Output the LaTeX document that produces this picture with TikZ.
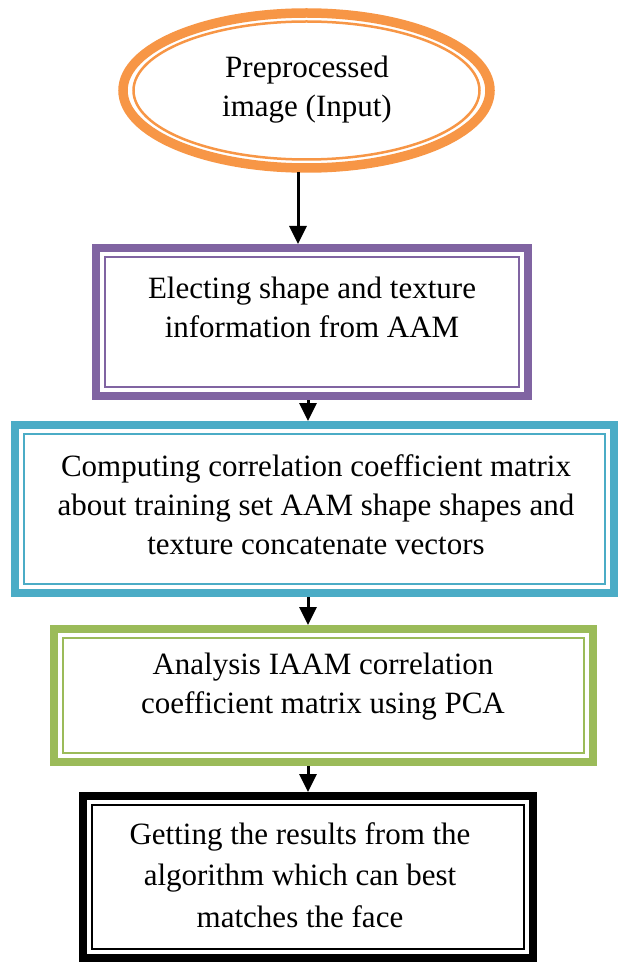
\documentclass[tikz,border=0pt]{standalone}
\usepackage{fontspec}
\setmainfont{Liberation Serif}
\usetikzlibrary{arrows.meta}
\definecolor{corange}{HTML}{F79646}
\definecolor{cpurple}{HTML}{8064A2}
\definecolor{cteal}{HTML}{4BACC6}
\definecolor{cgreen}{HTML}{9BBB59}
\tikzset{
  boxouter/.style={draw=#1, line width=8pt, rectangle, inner sep=0pt},
  boxinner/.style={draw=#1, line width=2.5pt},
  txt/.style={align=center, inner sep=0pt, font=\fontsize{31}{39}\selectfont},
  arr/.style={line width=3pt, -{Triangle[width=17pt,length=18pt]}}
}
\begin{document}
\begin{tikzpicture}[x=1pt,y=-1pt]
\useasboundingbox (0,0) rectangle (622,965);
% ellipse
\coordinate (e) at (306.5,90.5);
\draw[corange, line width=9.5pt] (e) ellipse [x radius=183.5, y radius=77.5];
\draw[corange, line width=2.5pt] (e) ellipse [x radius=173, y radius=69];
\node[txt] (t0) at (307,90) {Preprocessed\\image (Input)};
\coordinate (ebot) at (298,172);
% box 1
\node[boxouter=cpurple, minimum width=432pt, minimum height=148pt] (b1) at (312,322) {};
\draw[boxinner=cpurple] ([xshift=13pt,yshift=-13pt]b1.north west) rectangle ([xshift=-13pt,yshift=13pt]b1.south east);
\node[txt] (t1) at (312,307) {Electing shape and texture\\information from AAM};
% box 2
\node[boxouter=cteal, minimum width=599pt, minimum height=168pt] (b2) at (314.5,509) {};
\draw[boxinner=cteal] ([xshift=13pt,yshift=-13pt]b2.north west) rectangle ([xshift=-13pt,yshift=13pt]b2.south east);
\node[txt] (t2) at (316,505) {Computing correlation coefficient matrix\\about training set AAM shape shapes and\\texture concatenate vectors};
% box 3
\node[boxouter=cgreen, minimum width=539pt, minimum height=133pt] (b3) at (323.5,695.5) {};
\draw[boxinner=cgreen] ([xshift=13pt,yshift=-13pt]b3.north west) rectangle ([xshift=-13pt,yshift=13pt]b3.south east);
\node[txt] (t3) at (323,687) {Analysis IAAM correlation\\coefficient matrix using PCA};
% box 4
\node[boxouter=black, minimum width=450pt, minimum height=162pt] (b4) at (308,877) {};
\draw[boxinner=black] ([xshift=13pt,yshift=-13pt]b4.north west) rectangle ([xshift=-13pt,yshift=13pt]b4.south east);
\node[txt, font=\fontsize{31}{41.5}\selectfont] (t4) at (300,875) {Getting the results from the\\algorithm which can best\\matches the face};
% arrows
\coordinate (a1) at (308,0);
\draw[arr] (ebot) -- (b1.north -| ebot);
\draw[arr] (b1.south -| a1) -- (b2.north -| a1);
\draw[arr] (b2.south -| a1) -- (b3.north -| a1);
\draw[arr] (b3.south -| a1) -- (b4.north -| a1);
\end{tikzpicture}
\end{document}
